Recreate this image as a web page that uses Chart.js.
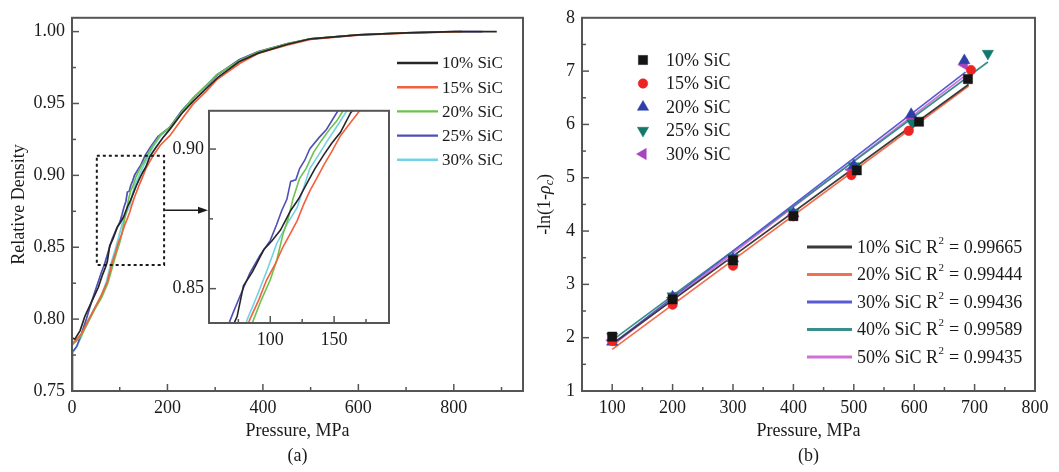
<!DOCTYPE html>
<html><head><meta charset="utf-8">
<script src="https://cdn.jsdelivr.net/npm/chart.js@4.4.1/dist/chart.umd.min.js"></script>
<style>
html,body{margin:0;padding:0;background:#fff;}
#wrap{position:relative;width:1059px;height:472px;overflow:hidden;background:#fff;}
canvas{position:absolute;}
</style></head><body>
<div id="wrap">
<canvas id="ca" width="530" height="472" style="left:0;top:0"></canvas>
<canvas id="cb" width="529" height="472" style="left:530px;top:0"></canvas>
<canvas id="ci" width="250" height="265" style="left:150px;top:95px"></canvas>
</div>
<script>
// ---------------- DATA: panel (a) ----------------
const labelsA = ['10% SiC', '15% SiC', '20% SiC', '25% SiC', '30% SiC'];
const p10 = [0, 6, 17, 27, 41, 55, 63, 70, 74, 79, 86, 95, 101, 108, 116, 122, 129, 135, 142, 148, 155, 163, 175, 190, 205, 230, 255, 280, 305, 350, 390, 450, 500, 600, 700, 800, 890];
const d10 = [0.787, 0.786, 0.792, 0.802, 0.812, 0.822, 0.830, 0.836, 0.840, 0.851, 0.856, 0.864, 0.867, 0.871, 0.878, 0.882, 0.888, 0.893, 0.898, 0.902, 0.906, 0.913, 0.919, 0.926, 0.932, 0.943, 0.952, 0.960, 0.968, 0.979, 0.985, 0.991, 0.995, 0.9977, 0.9991, 1.000, 1.000];
const p15 = [0, 10, 20, 34, 48, 62, 74, 84, 91, 97, 104, 110, 116, 121, 126, 131, 137, 142, 148, 155, 162, 170, 185, 205, 230, 254, 280, 303, 352, 390, 450, 500, 600, 700, 817];
const d15 = [0.783, 0.786, 0.790, 0.799, 0.808, 0.817, 0.826, 0.839, 0.846, 0.853, 0.859, 0.865, 0.870, 0.8743, 0.880, 0.885, 0.890, 0.8943, 0.899, 0.9048, 0.909, 0.9137, 0.921, 0.9276, 0.939, 0.9497, 0.958, 0.9664, 0.978, 0.9848, 0.9905, 0.9945, 0.9975, 0.999, 1.000];
const p20 = [0, 10, 20, 34, 48, 62, 75, 87, 93, 100, 105, 110, 114, 118, 123, 128, 134, 140, 147, 152, 157, 170, 185, 205, 230, 254, 280, 303, 352, 390, 450, 500, 600, 700, 817];
const d20 = [0.782, 0.785, 0.789, 0.798, 0.807, 0.815, 0.825, 0.839, 0.846, 0.8532, 0.860, 0.8696, 0.875, 0.8825, 0.8895, 0.893, 0.8989, 0.903, 0.9074, 0.910, 0.9137, 0.921, 0.928, 0.9334, 0.944, 0.9539, 0.962, 0.9699, 0.980, 0.9858, 0.9915, 0.995, 0.9978, 0.9992, 1.000];
const p25 = [0, 3, 10, 20, 30, 41, 52, 62, 68, 71, 76, 84, 92, 100, 105, 109, 113, 116, 120, 123, 127, 131, 138, 144, 153, 165, 180, 205, 230, 255, 280, 305, 350, 390, 450, 500, 600, 700, 800, 860];
const d25 = [0.778, 0.778, 0.781, 0.790, 0.800, 0.812, 0.823, 0.833, 0.838, 0.8415, 0.847, 0.8556, 0.862, 0.8673, 0.873, 0.878, 0.882, 0.8884, 0.889, 0.893, 0.896, 0.9001, 0.904, 0.907, 0.9137, 0.920, 0.927, 0.9335, 0.945, 0.954, 0.962, 0.970, 0.9805, 0.9862, 0.9915, 0.995, 0.9978, 0.9992, 1.000, 1.000];
const p30 = [0, 2, 10, 20, 30, 45, 60, 72, 82, 89.5, 97, 105, 113, 121, 126, 131, 138, 144, 152, 160, 172, 187, 205, 230, 254, 280, 303, 352, 390, 450, 500, 600, 700, 817];
const d30 = [0.750, 0.777, 0.781, 0.788, 0.797, 0.806, 0.815, 0.826, 0.839, 0.8473, 0.856, 0.8661, 0.873, 0.879, 0.886, 0.893, 0.898, 0.9025, 0.908, 0.9137, 0.921, 0.928, 0.9334, 0.945, 0.954, 0.962, 0.970, 0.980, 0.9858, 0.9915, 0.995, 0.9978, 0.9992, 1.000];
const xTicksA = [0, 200, 400, 600, 800];
const yTicksA = [0.75, 0.80, 0.85, 0.90, 0.95, 1.00];
const insetXRange = [52, 193];
const insetYRange = [0.8377, 0.9137];
const xTicksInset = [100, 150];
const yTicksInset = [0.85, 0.90];

// ---------------- DATA: panel (b) ----------------
const labelsB = ['10% SiC', '15% SiC', '20% SiC', '25% SiC', '30% SiC'];
const pB10 = [100, 200, 300, 400, 505, 608, 689];
const yB10 = [2.02, 2.72, 3.45, 4.28, 5.14, 6.05, 6.85];
const pB15 = [100, 200, 300, 400, 496, 591, 694];
const yB15 = [1.94, 2.62, 3.35, 4.28, 5.05, 5.88, 7.02];
const pB20 = [100, 200, 300, 400, 500, 595, 683];
const yB20 = [1.92, 2.77, 3.48, 4.33, 5.23, 6.19, 7.20];
const pB25 = [100, 200, 300, 400, 500, 597, 722];
const yB25 = [2.02, 2.78, 3.50, 4.35, 5.22, 6.02, 7.33];
const pB30 = [100, 200, 300, 400, 496, 595, 683];
const yB30 = [1.95, 2.75, 3.45, 4.30, 5.15, 6.12, 7.12];
const fitLabels = ['10% SiC', '20% SiC', '30% SiC', '40% SiC', '50% SiC'];
const fitR2 = ['0.99665', '0.99444', '0.99436', '0.99589', '0.99435'];
const fitP = [[100, 690], [100, 690], [100, 685], [100, 722], [100, 685]];
const fitV = [[1.88, 6.75], [1.78, 6.72], [1.88, 6.98], [1.95, 7.17], [1.85, 6.92]];
const xTicksB = [100, 200, 300, 400, 500, 600, 700, 800];
const yTicksB = [1, 2, 3, 4, 5, 6, 7, 8];

// ---------------- STYLE ----------------
const FONT = "'Liberation Serif','Times New Roman',serif";
const TXT = '#1a1a1a';
const FRAME = '#555';
Chart.defaults.font.family = FONT;
Chart.defaults.color = TXT;
const colorsA = ['#262626', '#f2603c', '#6cc24c', '#4f4fb8', '#72d2e6'];
const markerColorsB = ['#141414', '#ec2424', '#2f3fa8', '#12786e', '#a844c0'];
const markerStylesB = [['rect', 0, 6.5], ['circle', 0, 4.8], ['triangle', 0, 6.5], ['triangle', 180, 6.5], ['triangle', 270, 6.5]];
const fitColors = ['#3a3a3a', '#f27050', '#5a5ad2', '#3a8e8c', '#d070d6'];

const zip = (xs, ys) => xs.map((x, i) => ({x: x, y: ys[i]}));
const seriesA = [[p10, d10], [p15, d15], [p20, d20], [p25, d25], [p30, d30]];
const makeDatasetsA = (w) => seriesA.map((s, i) => ({
  label: labelsA[i], data: zip(s[0], s[1]), borderColor: colorsA[i],
  borderWidth: w, pointRadius: 0, tension: 0, fill: false
}));

// inward ticks + frame
function minorsOf(majors, min, max) {
  const out = [];
  const step = majors[1] - majors[0];
  for (let i = -1; i < majors.length; i++) {
    const m = (i < 0 ? majors[0] - step : majors[i]) + step / 2;
    if (m > min && m < max) out.push(m);
  }
  return out;
}
const frameTicks = {
  id: 'frameTicks',
  afterDatasetsDraw(chart) {
    const {ctx, chartArea: a, scales: {x, y}} = chart;
    ctx.save();
    ctx.strokeStyle = FRAME; ctx.lineWidth = 2; ctx.setLineDash([]);
    ctx.strokeRect(a.left, a.top, a.right - a.left, a.bottom - a.top);
    ctx.lineWidth = 1.5;
    const xm = x.ticks.map(t => t.value), ym = y.ticks.map(t => t.value);
    const seg = (x1, y1, x2, y2) => { ctx.beginPath(); ctx.moveTo(x1, y1); ctx.lineTo(x2, y2); ctx.stroke(); };
    xm.forEach(v => { const p = x.getPixelForValue(v); if (p > a.left + 1 && p < a.right - 1) seg(p, a.bottom, p, a.bottom - 7); });
    minorsOf(xm, x.min, x.max).forEach(v => { const p = x.getPixelForValue(v); seg(p, a.bottom, p, a.bottom - 4); });
    ym.forEach(v => { const p = y.getPixelForValue(v); if (p > a.top + 1 && p < a.bottom - 1) seg(a.left, p, a.left + 7, p); });
    minorsOf(ym, y.min, y.max).forEach(v => { const p = y.getPixelForValue(v); seg(a.left, p, a.left + 4, p); });
    ctx.restore();
  }
};

const INSET_FRAME_LEFT = 150 + 59; // page x of inset plot frame

const insetBox = {
  id: 'insetBox',
  afterDatasetsDraw(chart) {
    const {ctx, scales: {x, y}} = chart;
    const x1 = x.getPixelForValue(insetXRange[0]), x2 = x.getPixelForValue(insetXRange[1]);
    const y1 = y.getPixelForValue(insetYRange[1]), y2 = y.getPixelForValue(insetYRange[0]);
    ctx.save();
    ctx.strokeStyle = '#1a1a1a'; ctx.lineWidth = 2; ctx.setLineDash([3, 3]);
    ctx.strokeRect(x1, y1, x2 - x1, y2 - y1);
    ctx.setLineDash([]);
    const ym = (y1 + y2) / 2, xe = INSET_FRAME_LEFT - 1;
    ctx.lineWidth = 1.5;
    ctx.beginPath(); ctx.moveTo(x2 + 1, ym); ctx.lineTo(xe - 8, ym); ctx.stroke();
    ctx.fillStyle = '#1a1a1a';
    ctx.beginPath(); ctx.moveTo(xe, ym); ctx.lineTo(xe - 10, ym - 3.5); ctx.lineTo(xe - 10, ym + 3.5); ctx.closePath(); ctx.fill();
    ctx.restore();
  }
};

const legendA = {
  id: 'legendA',
  afterDraw(chart) {
    const ctx = chart.ctx;
    ctx.save();
    ctx.font = '17px ' + FONT; ctx.fillStyle = TXT; ctx.textBaseline = 'middle'; ctx.textAlign = 'left';
    chart.data.datasets.forEach((d, i) => {
      const yy = 63 + i * 24.2;
      ctx.strokeStyle = d.borderColor; ctx.lineWidth = 2.4;
      ctx.beginPath(); ctx.moveTo(397, yy); ctx.lineTo(438, yy); ctx.stroke();
      ctx.fillText(d.label, 442, yy + 1);
    });
    ctx.restore();
  }
};

// ---------------- CHART (a) ----------------
new Chart(document.getElementById('ca'), {
  type: 'line',
  data: {datasets: makeDatasetsA(1.7)},
  options: {
    responsive: false, animation: false,
    layout: {padding: {left: 0, top: 12, right: 7, bottom: 0}},
    plugins: {legend: {display: false}, tooltip: {enabled: false}},
    scales: {
      x: {
        type: 'linear', min: 0, max: 945,
        afterBuildTicks: s => { s.ticks = xTicksA.map(v => ({value: v})); },
        afterFit: s => { s.height = 81; },
        grid: {display: false, drawTicks: false}, border: {display: false},
        ticks: {padding: 6, autoSkip: false, maxRotation: 0, font: {size: 18}, color: TXT, callback: v => String(v)},
        title: {display: true, text: ['Pressure, MPa', '(a)'], font: {size: 18, lineHeight: 1.39}, padding: {top: 0, bottom: 3}, color: TXT}
      },
      y: {
        type: 'linear', min: 0.75, max: 1.0096,
        afterBuildTicks: s => { s.ticks = yTicksA.map(v => ({value: v})); },
        afterFit: s => { s.width = 72; },
        grid: {display: false, drawTicks: false}, border: {display: false},
        ticks: {padding: 7, autoSkip: false, font: {size: 18}, color: TXT, callback: v => v.toFixed(2)},
        title: {display: true, text: 'Relative Density', font: {size: 18, lineHeight: 1.2}, padding: {top: 8, bottom: 0}, color: TXT}
      }
    }
  },
  plugins: [frameTicks, insetBox, legendA]
});

// ---------------- INSET ----------------
const whiteArea = {
  id: 'whiteArea',
  beforeDraw(chart) {
    const {ctx, chartArea: a} = chart;
    ctx.save(); ctx.fillStyle = '#fff'; ctx.fillRect(a.left, a.top, a.right - a.left, a.bottom - a.top); ctx.restore();
  }
};
new Chart(document.getElementById('ci'), {
  type: 'line',
  data: {datasets: makeDatasetsA(1.6)},
  options: {
    responsive: false, animation: false,
    layout: {padding: {left: 0, top: 12, right: 11, bottom: 0}},
    plugins: {legend: {display: false}, tooltip: {enabled: false}},
    scales: {
      x: {
        type: 'linear', min: insetXRange[0], max: insetXRange[1],
        afterBuildTicks: s => { s.ticks = xTicksInset.map(v => ({value: v})); },
        afterFit: s => { s.height = 37; },
        grid: {display: false, drawTicks: false}, border: {display: false},
        ticks: {padding: 6, autoSkip: false, maxRotation: 0, font: {size: 18}, color: TXT, callback: v => String(v)}
      },
      y: {
        type: 'linear', min: insetYRange[0], max: insetYRange[1],
        afterBuildTicks: s => { s.ticks = yTicksInset.map(v => ({value: v})); },
        afterFit: s => { s.width = 59; },
        grid: {display: false, drawTicks: false}, border: {display: false},
        ticks: {padding: 5, autoSkip: false, font: {size: 18}, color: TXT, callback: v => v.toFixed(2)}
      }
    }
  },
  plugins: [whiteArea, frameTicks]
});

// ---------------- CHART (b) ----------------
const scatterB = [[pB10, yB10], [pB15, yB15], [pB20, yB20], [pB25, yB25], [pB30, yB30]];
const datasetsB = [];
fitP.forEach((px, i) => datasetsB.push({
  label: fitLabels[i], r2: fitR2[i], isFit: true, data: zip(px, fitV[i]), showLine: true,
  borderColor: fitColors[i], borderWidth: 1.7, pointRadius: 0, tension: 0, order: 2
}));
scatterB.forEach((s, i) => datasetsB.push({
  label: labelsB[i], data: zip(s[0], s[1]), showLine: false,
  pointStyle: markerStylesB[i][0], rotation: markerStylesB[i][1], pointRadius: markerStylesB[i][2],
  backgroundColor: markerColorsB[i], borderColor: markerColorsB[i], borderWidth: 0.5, order: 1
}));

const legendB = {
  id: 'legendB',
  afterDraw(chart) {
    const ctx = chart.ctx;
    ctx.save();
    ctx.font = '18px ' + FONT; ctx.fillStyle = TXT; ctx.textBaseline = 'middle'; ctx.textAlign = 'left';
    const sc = chart.data.datasets.filter(d => !d.isFit);
    sc.forEach((d, i) => {
      const yy = 60 + i * 23.5;
      ctx.fillStyle = d.backgroundColor; ctx.strokeStyle = d.borderColor; ctx.lineWidth = 0.5;
      Chart.helpers.drawPoint(ctx, {pointStyle: d.pointStyle, rotation: d.rotation, radius: d.pointRadius, borderWidth: 0.5}, 113, yy);
      ctx.fillStyle = TXT;
      ctx.fillText(d.label, 136, yy + 1);
    });
    const fits = chart.data.datasets.filter(d => d.isFit);
    fits.forEach((d, i) => {
      const yy = 247 + i * 27.5;
      ctx.strokeStyle = d.borderColor; ctx.lineWidth = 2.8;
      ctx.beginPath(); ctx.moveTo(277, yy); ctx.lineTo(322, yy); ctx.stroke();
      ctx.fillStyle = TXT;
      let xx = 327;
      const a = d.label + ' R';
      ctx.font = '18px ' + FONT; ctx.fillText(a, xx, yy + 1); xx += ctx.measureText(a).width;
      ctx.font = '11px ' + FONT; ctx.fillText('2', xx + 0.5, yy - 6); xx += ctx.measureText('2').width + 1;
      ctx.font = '18px ' + FONT; ctx.fillText(' = ' + d.r2, xx, yy + 1);
    });
    // y axis title with subscript
    const a = chart.chartArea;
    ctx.translate(14, (a.top + a.bottom) / 2);
    ctx.rotate(-Math.PI / 2);
    ctx.textBaseline = 'middle';
    const parts = [['-ln(1-', '18px ' + FONT, 0], ['\u03C1', 'italic 18px ' + FONT, 0], ['c', 'italic 12px ' + FONT, 5], [')', '18px ' + FONT, 0]];
    let total = 0;
    parts.forEach(p => { ctx.font = p[1]; total += ctx.measureText(p[0]).width; });
    let xx = -total / 2;
    ctx.fillStyle = TXT;
    parts.forEach(p => { ctx.font = p[1]; ctx.fillText(p[0], xx, p[2] + 1); xx += ctx.measureText(p[0]).width; });
    ctx.restore();
  }
};

new Chart(document.getElementById('cb'), {
  type: 'scatter',
  data: {datasets: datasetsB},
  options: {
    responsive: false, animation: false,
    layout: {padding: {left: 0, top: 12, right: 24, bottom: 0}},
    plugins: {legend: {display: false}, tooltip: {enabled: false}},
    scales: {
      x: {
        type: 'linear', min: 50, max: 800,
        afterBuildTicks: s => { s.ticks = xTicksB.map(v => ({value: v})); },
        afterFit: s => { s.height = 81; },
        grid: {display: false, drawTicks: false}, border: {display: false},
        ticks: {padding: 6, autoSkip: false, maxRotation: 0, font: {size: 18}, color: TXT, callback: v => String(v)},
        title: {display: true, text: ['Pressure, MPa', '(b)'], font: {size: 18, lineHeight: 1.39}, padding: {top: 0, bottom: 3}, color: TXT}
      },
      y: {
        type: 'linear', min: 1, max: 8,
        afterBuildTicks: s => { s.ticks = yTicksB.map(v => ({value: v})); },
        afterFit: s => { s.width = 52; },
        grid: {display: false, drawTicks: false}, border: {display: false},
        ticks: {padding: 7, autoSkip: false, font: {size: 18}, color: TXT, callback: v => String(v)}
      }
    }
  },
  plugins: [frameTicks, legendB]
});
</script>
</body></html>
